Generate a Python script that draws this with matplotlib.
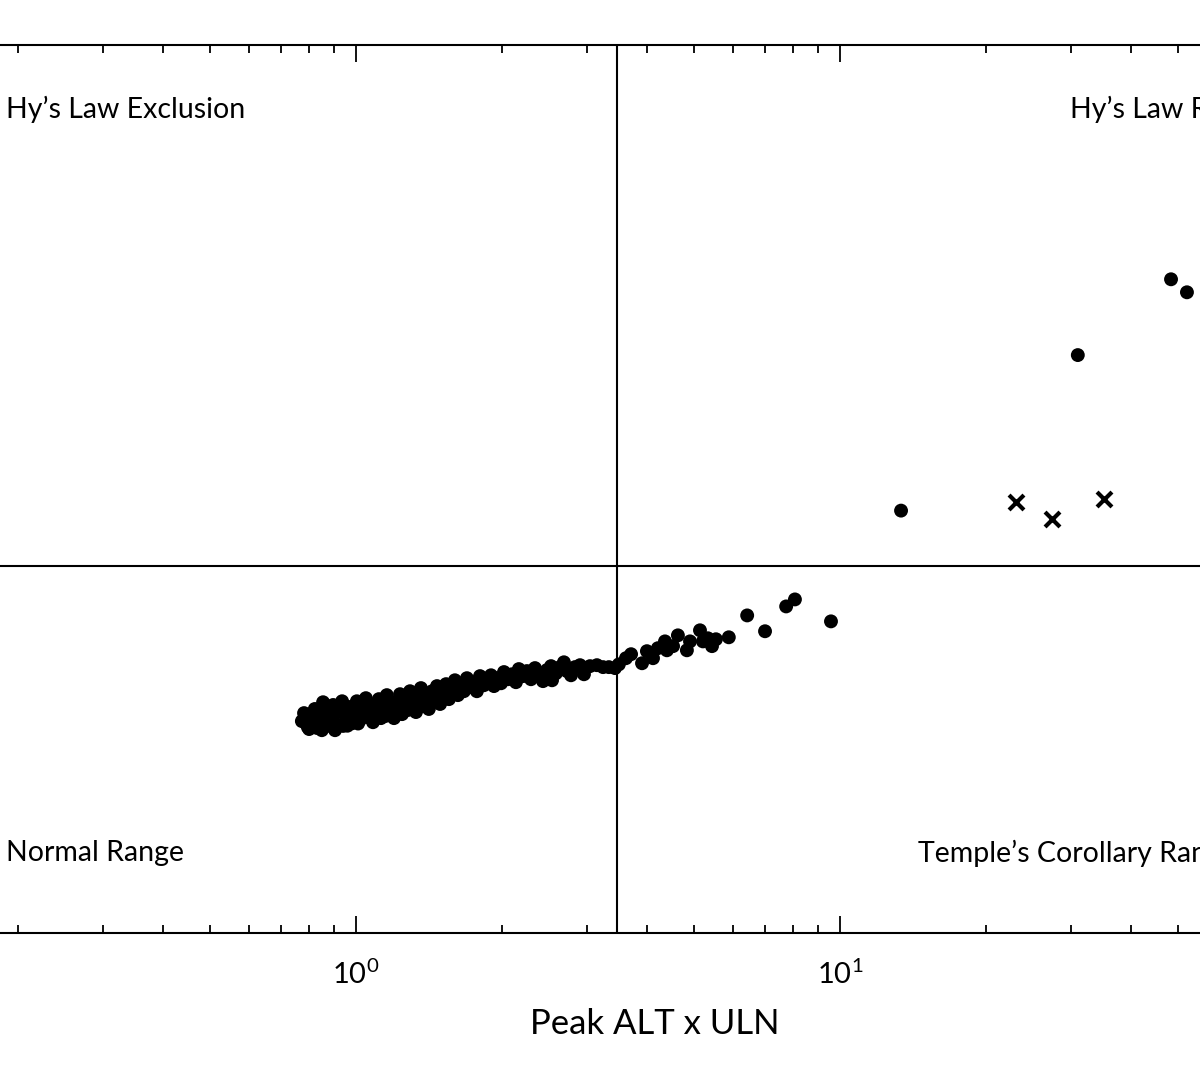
import matplotlib
matplotlib.use("Agg")
import matplotlib.pyplot as plt
import numpy as np

plt.rcParams['font.family'] = ['Lato', 'DejaVu Sans']
plt.rcParams['mathtext.default'] = 'regular'

# Peak ALT x ULN and Peak total bilirubin x ULN
alt_cluster = [0.773, 0.781, 0.795, 0.811, 0.822, 0.830, 0.843, 0.855, 0.863, 0.871,
               0.888, 0.897, 0.909, 0.918, 0.936, 0.940, 0.954, 0.967, 0.981, 0.995,
               1.004, 1.019, 1.034, 1.048, 1.058, 1.074, 1.084, 1.100, 1.115, 1.126,
               1.142, 1.158, 1.169, 1.187, 1.198, 1.215, 1.233, 1.245, 1.262, 1.280,
               1.293, 1.311, 1.330, 1.342, 1.362, 1.375, 1.395, 1.414, 1.436, 1.449,
               1.470, 1.492, 1.513, 1.535, 1.556, 1.579, 1.601, 1.624, 1.648, 1.671,
               1.695, 1.720, 1.753, 1.777, 1.804, 1.838, 1.864, 1.901, 1.928, 1.955,
               1.994, 2.022, 2.060, 2.101, 2.140, 2.170, 2.213, 2.255, 2.299, 2.343,
               2.386, 2.434, 2.480, 2.529, 2.541, 2.589, 2.639, 2.689, 2.727, 2.781,
               2.834, 2.903, 2.958, 3.044, 3.146, 3.239, 3.330, 3.428, 3.492, 3.612,
               3.701, 3.899, 3.991, 4.108, 4.205, 4.349, 4.389, 4.519, 4.625, 4.827,
               4.899, 5.137, 5.210, 5.333, 5.439, 5.542, 5.892,
               0.800, 0.850, 0.905, 0.960, 1.010, 1.090, 1.150, 1.230, 1.320, 1.400]
bili_cluster = [0.891, 0.929, 0.864, 0.905, 0.949, 0.860, 0.896, 0.983, 0.934, 0.869,
                0.910, 0.969, 0.877, 0.934, 0.988, 0.869, 0.910, 0.959, 0.881, 0.924,
                0.988, 0.896, 0.949, 1.004, 0.910, 0.969, 0.886, 0.934, 0.999, 0.905,
                0.959, 1.020, 0.924, 0.983, 0.905, 0.949, 1.025, 0.924, 0.983, 0.944,
                1.041, 0.974, 0.934, 1.014, 1.058, 0.964, 1.004, 0.949, 1.041, 0.988,
                1.069, 0.974, 1.025, 1.080, 0.999, 1.052, 1.102, 1.020, 1.074, 1.041,
                1.114, 1.063, 1.091, 1.041, 1.126, 1.074, 1.108, 1.131, 1.069, 1.114,
                1.085, 1.150, 1.108, 1.137, 1.091, 1.168, 1.126, 1.156, 1.108, 1.174,
                1.137, 1.097, 1.162, 1.186, 1.102, 1.143, 1.180, 1.210, 1.156, 1.131,
                1.180, 1.192, 1.137, 1.186, 1.192, 1.180, 1.180, 1.174, 1.197, 1.236,
                1.262, 1.204, 1.282, 1.236, 1.302, 1.349, 1.288, 1.316, 1.392, 1.288,
                1.349, 1.429, 1.349, 1.371, 1.316, 1.364, 1.378,
                0.855, 0.850, 0.850, 0.870, 0.880, 0.900, 0.915, 0.935, 0.960, 0.985]

alt_outlier = [6.43, 7.00, 7.74, 8.07, 9.58, 13.37, 31.0, 48.3, 52.1]
bili_outlier = [1.544, 1.422, 1.618, 1.678, 1.497, 2.663, 5.98, 8.87, 8.29]

alt_cross = [23.1, 27.4, 35.1]
bili_cross = [2.79, 2.555, 2.835]

alt_threshold = 3.46
bili_threshold = 2.0

xtick_values = [1, 10]
xtick_labels = ['$10^{0}$', '$10^{1}$']

quadrant_labels = ["Hy\u2019s Law Exclusion", "Hy\u2019s Law Range",
                   "Normal Range", "Temple\u2019s Corollary Range"]

fig = plt.figure(figsize=(12, 10.8), dpi=100)
ax = fig.add_axes([-128 / 1200, 147 / 1080, 1452 / 1200, 888 / 1080])
ax.set_xscale('log')
ax.set_yscale('log')
ax.set_xlim(0.1, 100)
ax.set_ylim(0.296, 30)

ax.scatter(alt_cluster, bili_cluster, s=100, c='black', edgecolors='none', zorder=3)
ax.scatter(alt_outlier, bili_outlier, s=100, c='black', edgecolors='none', zorder=3)
ax.scatter(alt_cross, bili_cross, s=115, marker='x', c='black', linewidths=3, zorder=3)

ax.axvline(alt_threshold, color='black', lw=1.5, zorder=2)
ax.axhline(bili_threshold, color='black', lw=1.5, zorder=2)

for sp in ax.spines.values():
    sp.set_linewidth(1.5)

ax.set_xticks(xtick_values)
ax.set_xticklabels(xtick_labels)
ax.tick_params(which='both', direction='in', top=True, right=True, width=1.3,
               labelsize=21, pad=19)
ax.tick_params(which='major', length=12)
ax.tick_params(which='minor', length=6)
ax.tick_params(axis='y', labelleft=False, labelright=False)

ax.set_xlabel("Peak ALT x ULN", fontsize=25)
ax.xaxis.set_label_coords(0.539, -0.085)

tfs = 20.5
ax.text(0.189, 21.5, quadrant_labels[0], fontsize=tfs, va='center', ha='left')
ax.text(29.9, 21.5, quadrant_labels[1], fontsize=tfs, va='center', ha='left')
ax.text(0.189, 0.449, quadrant_labels[2], fontsize=tfs, va='center', ha='left')
ax.text(14.5, 0.449, quadrant_labels[3], fontsize=tfs, va='center', ha='left')

fig.savefig("out.png", dpi=100)
